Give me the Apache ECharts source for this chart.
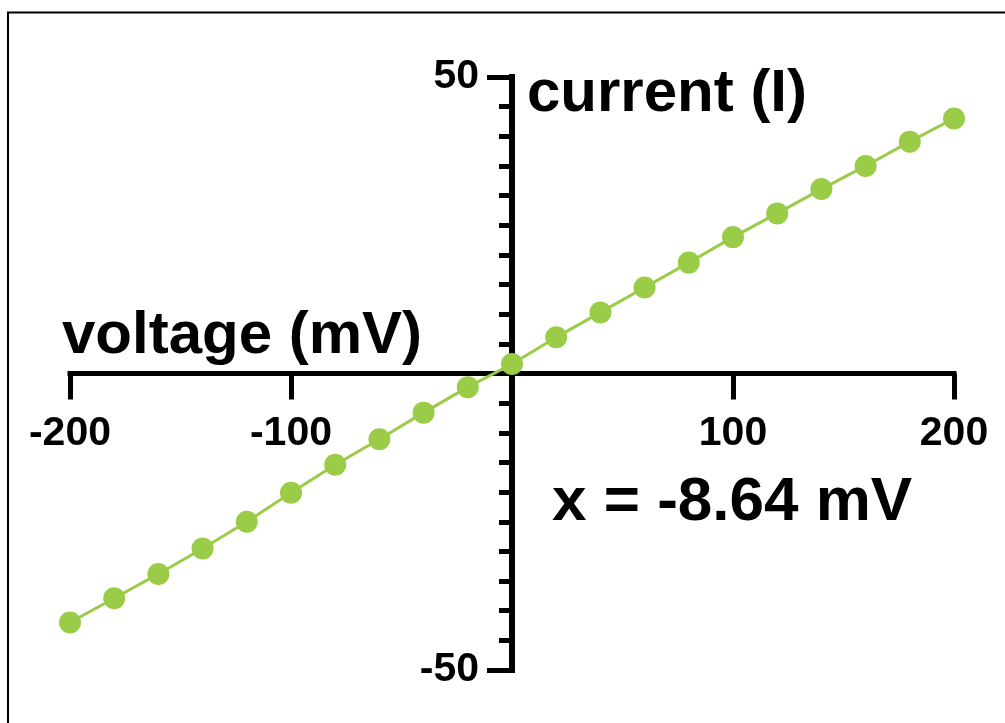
<!DOCTYPE html>
<html>
<head>
<meta charset="utf-8">
<script src="https://cdn.jsdelivr.net/npm/echarts@6/dist/echarts.min.js"></script>
<style>
html,body{margin:0;padding:0;background:#fff;}
#chart{width:1005px;height:723px;}
</style>
</head>
<body>
<div id="chart"></div>
<script>
var voltage = [-200, -180, -160, -140, -120, -100, -80, -60, -40, -20, 0, 20, 40, 60, 80, 100, 120, 140, 160, 180, 200];
var current = [-42.0, -37.9, -33.8, -29.5, -25.0, -20.1, -15.4, -11.1, -6.6, -2.3, 1.6, 6.1, 10.3, 14.5, 18.7, 23.0, 27.0, 31.1, 35.0, 39.1, 43.0];
var xTickLabels = ['-200', '-100', '', '100', '200'];
var yTickLabels = ['-50', '50'];
var xAxisTitle = 'voltage (mV)';
var yAxisTitle = 'current (I)';
var annotation = 'x = -8.64 mV';

var chart = echarts.init(document.getElementById('chart'), null, {renderer: 'canvas'});
var FONT = '"Liberation Sans", Arial, Helvetica, sans-serif';
var xLabelMap = {};
[-200, -100, 0, 100, 200].forEach(function (v, i) { xLabelMap[v] = xTickLabels[i]; });
var yLabelMap = {};
[-50, 50].forEach(function (v, i) { yLabelMap[v] = yTickLabels[i]; });

var G = {left: 70, right: 51, top: 77, bottom: 53};
var W = 1005, H = 723;
// offsets so the axes cross at the data origin (0, 0)
var yAxisOffset = -((W - G.left - G.right) / 2);
var xAxisOffset = -((H - G.top - G.bottom) / 2);

chart.setOption({
  animation: false,
  backgroundColor: '#ffffff',
  grid: {left: G.left, right: G.right, top: G.top, bottom: G.bottom, containLabel: false, outerBoundsMode: 'none'},
  xAxis: {
    type: 'value', min: -200, max: 200, interval: 100,
    position: 'bottom', offset: xAxisOffset,
    axisLine: {show: true, onZero: false, lineStyle: {color: '#000', width: 5, cap: 'square'}},
    axisTick: {show: true, length: 26, lineStyle: {color: '#000', width: 5}},
    axisLabel: {
      margin: 40, color: '#000', fontFamily: FONT, fontWeight: 'bold', fontSize: 41,
      formatter: function (v) { return xLabelMap[v] !== undefined ? xLabelMap[v] : ''; }
    },
    splitLine: {show: false}
  },
  yAxis: {
    type: 'value', min: -50, max: 50, interval: 100,
    position: 'left', offset: yAxisOffset,
    axisLine: {show: true, onZero: false, lineStyle: {color: '#000', width: 6, cap: 'square'}},
    axisTick: {show: true, length: 25, lineStyle: {color: '#000', width: 5}},
    minorTick: {show: true, splitNumber: 20, length: 13, lineStyle: {color: '#000', width: 5}},
    axisLabel: {
      margin: 33, color: '#000', fontFamily: FONT, fontWeight: 'bold', fontSize: 41,
      formatter: function (v) { return yLabelMap[v] !== undefined ? yLabelMap[v] : ''; }
    },
    splitLine: {show: false}
  },
  series: [{
    type: 'line',
    data: voltage.map(function (v, i) { return [v, current[i]]; }),
    symbol: 'circle', symbolSize: 22,
    lineStyle: {color: '#9bcc48', width: 3},
    itemStyle: {color: '#9bcc48'},
    z: 5
  }],
  graphic: [
    {type: 'rect', shape: {x: 8, y: 12.5, width: 1200, height: 900}, style: {fill: null, stroke: '#000', lineWidth: 2}, silent: true},
    {type: 'text', x: 527, y: 94, style: {text: yAxisTitle, font: 'bold 60px ' + FONT, fill: '#000', textAlign: 'left', textVerticalAlign: 'middle'}},
    {type: 'text', x: 62, y: 336, style: {text: xAxisTitle, font: 'bold 60px ' + FONT, fill: '#000', textAlign: 'left', textVerticalAlign: 'middle'}},
    {type: 'text', x: 552, y: 503, style: {text: annotation, font: 'bold 62px ' + FONT, fill: '#000', textAlign: 'left', textVerticalAlign: 'middle'}}
  ]
});
</script>
</body>
</html>
